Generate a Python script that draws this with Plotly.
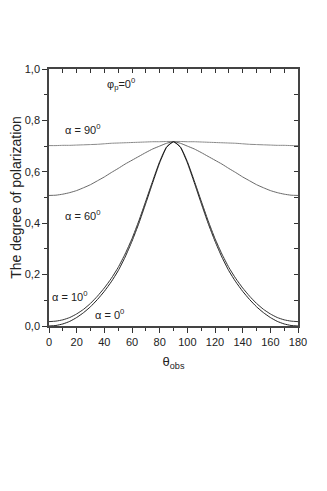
import plotly.graph_objects as go

theta = list(range(0, 181, 5))

half_alpha0 = [0.0, 0.002, 0.008, 0.018, 0.033, 0.052, 0.075, 0.103, 0.135, 0.172,
               0.215, 0.268, 0.33, 0.40, 0.478, 0.558, 0.635, 0.695, 0.717]
half_alpha10 = [0.017, 0.019, 0.024, 0.033, 0.047, 0.065, 0.088, 0.116, 0.148, 0.185,
                0.228, 0.28, 0.34, 0.41, 0.487, 0.565, 0.64, 0.697, 0.717]
half_alpha60 = [0.508, 0.509, 0.513, 0.519, 0.527, 0.538, 0.55, 0.565, 0.58, 0.597,
                0.613, 0.63, 0.645, 0.66, 0.675, 0.689, 0.7, 0.711, 0.717]
half_alpha90 = [0.702, 0.702, 0.703, 0.703, 0.704, 0.705, 0.706, 0.707, 0.709, 0.711,
                0.712, 0.713, 0.714, 0.715, 0.716, 0.717, 0.717, 0.718, 0.718]

# curves are symmetric around theta = 90
p_alpha0 = half_alpha0 + half_alpha0[-2::-1]
p_alpha10 = half_alpha10 + half_alpha10[-2::-1]
p_alpha60 = half_alpha60 + half_alpha60[-2::-1]
p_alpha90 = half_alpha90 + half_alpha90[-2::-1]

series = [
    ("α = 90°", p_alpha90, "#8a8a8a"),
    ("α = 60°", p_alpha60, "#6a6a6a"),
    ("α = 10°", p_alpha10, "#333333"),
    ("α = 0°", p_alpha0, "#222222"),
]

labels = [
    (24, 0.765, "α = 90<sup>0</sup>"),
    (24, 0.43, "α = 60<sup>0</sup>"),
    (15, 0.115, "α = 10<sup>0</sup>"),
    (44, 0.048, "α = 0<sup>0</sup>"),
    (52, 0.94, "φ<sub>p</sub>=0<sup>0</sup>"),
]

fig = go.Figure()
for name, vals, color in series:
    fig.add_trace(go.Scatter(x=theta, y=vals, mode="lines", name=name,
                             line=dict(color=color, width=1, shape="spline", smoothing=0.5)))

# invisible trace to activate top/right axes
fig.add_trace(go.Scatter(x=[0, 180], y=[0, 1], mode="markers", marker=dict(opacity=0),
                         xaxis="x2", yaxis="y2", hoverinfo="skip"))

axis_font = dict(family="Liberation Sans, Arial", size=11, color="#222")
fig.update_layout(
    width=319, height=483,
    margin=dict(l=41, r=29, t=61, b=165, autoexpand=False),
    paper_bgcolor="white", plot_bgcolor="white",
    showlegend=False,
    separators=",.",
    font=dict(family="Liberation Sans, Arial", color="#222"),
    xaxis=dict(range=[0, 180], tick0=0, dtick=20, ticks="outside", ticklen=5,
               tickcolor="#333", tickfont=axis_font, showgrid=False, zeroline=False,
               showline=True, linecolor="#444", linewidth=1.5,
               minor=dict(dtick=10, ticks="outside", ticklen=3, tickcolor="#333"),
               title=dict(text="θ<sub>obs</sub>", font=dict(size=13, color="#222"), standoff=10)),
    yaxis=dict(range=[0, 1], tick0=0, dtick=0.2, tickformat=".1f", ticks="outside", ticklen=5,
               tickcolor="#333", tickfont=axis_font, showgrid=False, zeroline=False,
               showline=True, linecolor="#444", linewidth=1.5,
               minor=dict(dtick=0.1, ticks="outside", ticklen=3, tickcolor="#333"),
               title=dict(text="The degree of polarization", font=dict(size=14, color="#222"),
                          standoff=6)),
    xaxis2=dict(overlaying="x", side="top", range=[0, 180], dtick=10, ticks="inside",
                ticklen=4, tickcolor="#333", showticklabels=False, showgrid=False,
                zeroline=False, showline=True, linecolor="#444", linewidth=1.5),
    yaxis2=dict(overlaying="y", side="right", range=[0, 1], dtick=0.1, ticks="inside",
                ticklen=4, tickcolor="#333", showticklabels=False, showgrid=False,
                zeroline=False, showline=True, linecolor="#444", linewidth=1.5),
)

for x, y, text in labels:
    fig.add_annotation(x=x, y=y, text=text, showarrow=False,
                       font=dict(family="Liberation Sans, Arial", size=11, color="#222"))

fig.write_html("out.html")
